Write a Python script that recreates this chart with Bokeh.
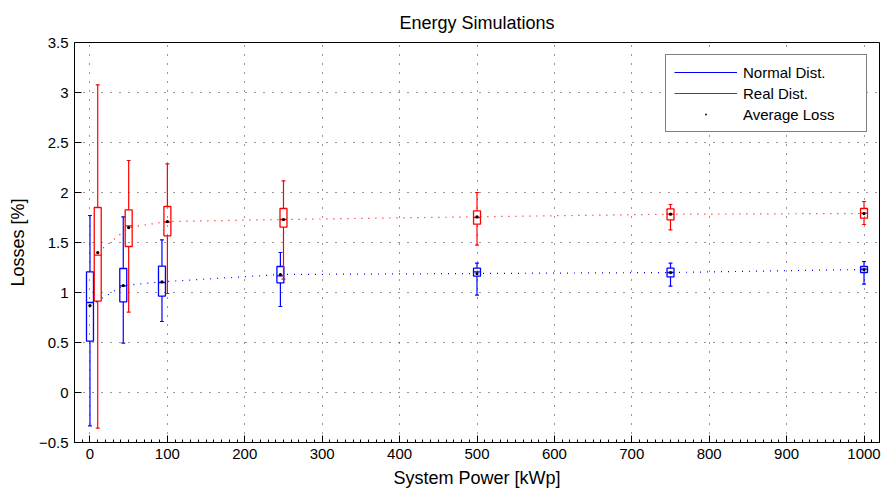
from bokeh.plotting import figure
from bokeh.models import SingleIntervalTicker, Legend, LegendItem
from bokeh.embed import file_html
from bokeh.resources import INLINE

FONT = "Liberation Sans"

# Normal distribution (blue)
normal_x = [0, 43, 93, 246, 500, 750, 1000]
normal_upper = [1.77, 1.757, 1.527, 1.40, 1.293, 1.293, 1.31]
normal_q3 = [1.207, 1.24, 1.264, 1.26, 1.243, 1.243, 1.26]
normal_median = [0.90, 1.067, 1.10, 1.167, 1.207, 1.20, 1.233]
normal_q1 = [0.514, 0.907, 0.964, 1.097, 1.163, 1.157, 1.20]
normal_lower = [-0.333, 0.494, 0.71, 0.86, 0.974, 1.063, 1.083]
normal_mean = [0.87, 1.07, 1.107, 1.18, 1.19, 1.20, 1.23]

# Real distribution (red)
real_x = [10, 50, 100, 250, 500, 750, 1000]
real_upper = [3.077, 2.32, 2.287, 2.117, 2.0, 1.88, 1.91]
real_q3 = [1.85, 1.827, 1.86, 1.84, 1.817, 1.837, 1.84]
real_median = [1.374, 1.667, 1.703, 1.73, 1.75, 1.783, 1.793]
real_q1 = [0.914, 1.46, 1.567, 1.653, 1.683, 1.727, 1.743]
real_lower = [-0.356, 0.804, 0.99, 1.134, 1.474, 1.627, 1.68]
real_mean = [1.40, 1.65, 1.71, 1.73, 1.757, 1.783, 1.79]

BOX_W = 9
CAP_W = 5

p = figure(width=882, height=495, x_range=(-20, 1020), y_range=(-0.5, 3.5),
           output_backend="svg", toolbar_location=None,
           min_border_left=74, min_border_right=3, min_border_top=42, min_border_bottom=53,
           background_fill_color="white", border_fill_color="white")

p.title.text = "Energy Simulations"
p.title.align = "center"
p.title.text_font = FONT
p.title.text_font_size = "18px"
p.title.text_font_style = "normal"
p.title.text_color = "black"
p.title.standoff = 19

p.outline_line_color = "black"
p.outline_line_width = 1

# Axes
p.xaxis.ticker = SingleIntervalTicker(interval=100, num_minor_ticks=10)
p.yaxis.ticker = SingleIntervalTicker(interval=0.5, num_minor_ticks=0)
for ax in (p.xaxis[0], p.yaxis[0]):
    ax.major_label_text_font = FONT
    ax.major_label_text_font_size = "15px"
    ax.major_label_text_color = "black"
    ax.axis_label_text_font = FONT
    ax.axis_label_text_font_size = "18px"
    ax.axis_label_text_font_style = "normal"
    ax.axis_label_text_color = "black"
    ax.axis_line_color = "black"
    ax.major_tick_line_color = "black"
    ax.major_tick_in = 7
    ax.major_tick_out = 0
    ax.minor_tick_in = 3
    ax.minor_tick_out = 0
    ax.minor_tick_line_color = "black"
    ax.major_label_standoff = 6
p.yaxis.minor_tick_line_color = None
p.xaxis.axis_label = "System Power [kWp]"
p.yaxis.axis_label = "Losses [%]"
p.xaxis.axis_label_standoff = 6
p.yaxis.axis_label_standoff = 8

for g in (p.xgrid[0], p.ygrid[0]):
    g.grid_line_color = "black"
    g.grid_line_alpha = 0.8
    g.grid_line_dash = "1 8"
    g.grid_line_width = 1

def draw(xs, upper, q3, med, q1, lower, color):
    x_lo = [x - BOX_W / 2 for x in xs]
    x_hi = [x + BOX_W / 2 for x in xs]
    c_lo = [x - CAP_W / 2 for x in xs]
    c_hi = [x + CAP_W / 2 for x in xs]
    wr = p.segment(x0=xs, y0=upper, x1=xs, y1=q3, line_color=color, line_width=1.2)
    p.segment(x0=xs, y0=q1, x1=xs, y1=lower, line_color=color, line_width=1.2)
    p.segment(x0=c_lo, y0=upper, x1=c_hi, y1=upper, line_color=color, line_width=1.2)
    p.segment(x0=c_lo, y0=lower, x1=c_hi, y1=lower, line_color=color, line_width=1.2)
    p.quad(left=x_lo, right=x_hi, bottom=q1, top=q3, fill_color=None,
           line_color=color, line_width=1.3)
    p.segment(x0=x_lo, y0=med, x1=x_hi, y1=med, line_color=color, line_width=1.3)
    return wr

blue = "#0000ff"
red = "#ff0000"

r_norm = draw(normal_x, normal_upper, normal_q3, normal_median, normal_q1, normal_lower, blue)
r_real = draw(real_x, real_upper, real_q3, real_median, real_q1, real_lower, red)

p.line(normal_x, normal_mean, line_color=blue, line_dash="1 6", line_width=1.2)
p.line(real_x, real_mean, line_color=red, line_dash="1 6", line_width=1.2)

r_mean = p.scatter(normal_x, normal_mean, marker="dot", size=13, color="black")
p.scatter(real_x, real_mean, marker="dot", size=13, color="black")

legend = Legend(items=[
    LegendItem(label="Normal Dist.", renderers=[r_norm]),
    LegendItem(label="Real Dist.", renderers=[r_real]),
    LegendItem(label="Average Loss", renderers=[r_mean]),
], location="top_right")
legend.label_text_font = FONT
legend.label_text_font_size = "15px"
legend.label_text_color = "black"
legend.border_line_color = "black"
legend.border_line_width = 1
legend.background_fill_color = "white"
legend.background_fill_alpha = 1
legend.margin = 12
legend.padding = 8
legend.spacing = 3
legend.glyph_width = 63
legend.glyph_height = 18
legend.label_height = 18
legend.label_standoff = 6
legend.label_width = 115
p.add_layout(legend)

open("out.html", "w").write(file_html(p, INLINE))
